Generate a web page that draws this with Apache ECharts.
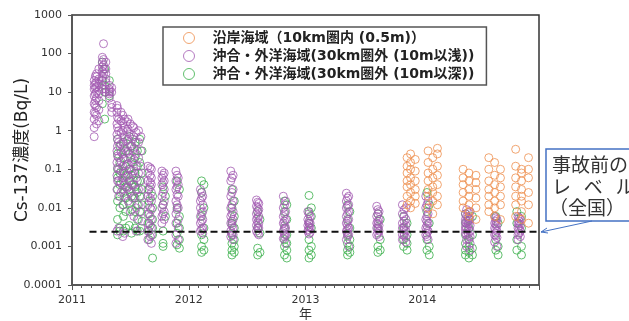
<!DOCTYPE html>
<html><head><meta charset="utf-8">
<script src="https://cdn.jsdelivr.net/npm/echarts@6/dist/echarts.min.js"></script>
<style>html,body{margin:0;padding:0;background:#fff}#c{width:629px;height:321px}</style>
</head><body><div id="c"></div>
<script>
// ---- data (decimal year, Bq/L) ----
const xTickYears = [2011, 2012, 2013, 2014];
const yTickLabels = ['0.0001','0.001','0.01','0.1','1','10','100','1000'];
const seriesNames = ['沿岸海域（10km圏内 (0.5m)）','沖合・外洋海域(30km圏外 (10m以浅))','沖合・外洋海域(30km圏外 (10m以深))'];
const baselineValue = 0.0024;
const baselineStart = 2011.15;
const baselineEnd = 2015;

// coastal (within 10 km, 0.5 m)
const coastal = [
  [2013.87, [0.2, 0.12, 0.08, 0.05, 0.035, 0.02, 0.012]],
  [2013.90, [0.25, 0.15, 0.1, 0.06, 0.04, 0.025, 0.015, 0.01]],
  [2013.94, [0.18, 0.09, 0.05, 0.03, 0.02, 0.013]],
  [2014.05, [0.3, 0.15, 0.08, 0.05, 0.03, 0.02, 0.01]],
  [2014.09, [0.2, 0.1, 0.06, 0.035, 0.025, 0.015, 0.007]],
  [2014.13, [0.35, 0.25, 0.12, 0.07, 0.04, 0.02, 0.012]],
  [2014.35, [0.1, 0.06, 0.04, 0.025, 0.015, 0.01]],
  [2014.40, [0.08, 0.05, 0.03, 0.02, 0.012, 0.008, 0.006]],
  [2014.46, [0.07, 0.045, 0.03, 0.018, 0.01, 0.005]],
  [2014.57, [0.2, 0.1, 0.05, 0.03, 0.02, 0.012, 0.008]],
  [2014.62, [0.15, 0.07, 0.04, 0.025, 0.015, 0.01, 0.006]],
  [2014.67, [0.1, 0.06, 0.035, 0.02, 0.012, 0.005]],
  [2014.80, [0.33, 0.12, 0.06, 0.035, 0.02, 0.012, 0.006]],
  [2014.85, [0.1, 0.08, 0.05, 0.03, 0.02, 0.015, 0.008, 0.005]],
  [2014.91, [0.2, 0.1, 0.06, 0.025, 0.012, 0.004]]
];
// offshore, shallow (<=10 m)
const shallow = [
  [2011.19, [20, 15, 12, 8, 5, 3, 2, 1.2, 0.7]],
  [2011.20, [26, 17, 13, 9, 6, 4.5, 2.8]],
  [2011.21, [30, 25, 18, 14, 10, 7, 4, 2.5, 1.5]],
  [2011.23, [40, 22, 16, 11, 9, 6, 3.5, 1.8]],
  [2011.26, [80, 60, 45, 35, 25, 20, 15, 12]],
  [2011.27, [180, 70, 50, 40, 30]],
  [2011.29, [60, 40, 30, 22, 18, 12, 10]],
  [2011.32, [15, 12, 11, 10, 9, 7]],
  [2011.34, [13, 10, 5, 4, 3]],
  [2011.385, [4.5, 3, 1.5, 0.8, 0.3, 0.15, 0.07, 0.03, 0.0025]],
  [2011.39, [3.8, 2.2, 1.2, 0.6, 0.4, 0.22, 0.11, 0.05]],
  [2011.40, [2, 1, 0.5, 0.2, 0.1, 0.05, 0.02, 0.003]],
  [2011.42, [3, 1.8, 0.9, 0.45, 0.28, 0.16, 0.09, 0.045, 0.025]],
  [2011.435, [2.5, 1.6, 1, 0.5, 0.25, 0.12, 0.06, 0.03, 0.012, 0.0018]],
  [2011.45, [2, 1.2, 0.7, 0.35, 0.18, 0.08, 0.04, 0.02, 0.0022]],
  [2011.47, [1.7, 0.95, 0.55, 0.27, 0.13, 0.065, 0.032]],
  [2011.48, [2, 1.1, 0.6, 0.3, 0.14, 0.07, 0.035, 0.015]],
  [2011.50, [1.5, 0.8, 0.4, 0.2, 0.1, 0.05, 0.025, 0.008]],
  [2011.52, [1.3, 0.6, 0.3, 0.15, 0.075, 0.04, 0.018]],
  [2011.53, [1.2, 0.7, 0.35, 0.18, 0.09, 0.04, 0.02, 0.006]],
  [2011.55, [0.9, 0.5, 0.25, 0.12, 0.06, 0.03, 0.01, 0.0025]],
  [2011.57, [1, 0.5, 0.2, 0.08, 0.03, 0.012, 0.005]],
  [2011.59, [0.7, 0.3, 0.12, 0.05, 0.02, 0.008, 0.003]],
  [2011.65, [0.12, 0.08, 0.05, 0.03, 0.02, 0.012, 0.007, 0.004, 0.0025, 0.0015]],
  [2011.67, [0.11, 0.07, 0.045, 0.035, 0.018, 0.01, 0.006, 0.0035, 0.0018]],
  [2011.68, [0.1, 0.06, 0.04, 0.025, 0.015, 0.009, 0.005, 0.003, 0.002, 0.0012]],
  [2011.77, [0.09, 0.06, 0.04, 0.02, 0.01, 0.006, 0.004]],
  [2011.78, [0.07, 0.045, 0.025, 0.012, 0.007]],
  [2011.79, [0.08, 0.05, 0.03, 0.015, 0.008, 0.005]],
  [2011.89, [0.09, 0.05, 0.03, 0.015, 0.007, 0.004, 0.002, 0.0012]],
  [2011.90, [0.07, 0.035, 0.022, 0.012, 0.009]],
  [2011.91, [0.06, 0.04, 0.02, 0.01, 0.005, 0.003, 0.0015]],
  [2012.10, [0.03, 0.015, 0.01, 0.006, 0.004, 0.0025]],
  [2012.11, [0.025, 0.018, 0.0075, 0.0045, 0.0028]],
  [2012.12, [0.02, 0.012, 0.008, 0.005, 0.003, 0.0022]],
  [2012.36, [0.09, 0.05, 0.02, 0.01, 0.006, 0.004, 0.0025, 0.0018]],
  [2012.37, [0.06, 0.025, 0.012, 0.007, 0.0045, 0.0035, 0.0022]],
  [2012.38, [0.07, 0.03, 0.015, 0.008, 0.005, 0.003, 0.002, 0.0015]],
  [2012.58, [0.016, 0.011, 0.007, 0.005, 0.0035, 0.0025]],
  [2012.59, [0.014, 0.01, 0.008, 0.0055, 0.0042, 0.003, 0.0022]],
  [2012.60, [0.013, 0.009, 0.006, 0.004, 0.003, 0.002]],
  [2012.81, [0.02, 0.01, 0.006, 0.004, 0.0025, 0.0016]],
  [2012.82, [0.012, 0.007, 0.0045, 0.0035, 0.0028, 0.0021, 0.0018]],
  [2012.83, [0.015, 0.008, 0.005, 0.003, 0.002, 0.0012]],
  [2013.02, [0.008, 0.005, 0.0035, 0.0025]],
  [2013.03, [0.007, 0.0045, 0.004, 0.0032, 0.0027, 0.0021]],
  [2013.04, [0.006, 0.004, 0.003, 0.0023]],
  [2013.35, [0.024, 0.015, 0.01, 0.006, 0.004, 0.0025, 0.0015]],
  [2013.36, [0.018, 0.011, 0.007, 0.0045, 0.0035, 0.0028, 0.0022, 0.0018]],
  [2013.37, [0.02, 0.012, 0.008, 0.005, 0.003, 0.002, 0.001]],
  [2013.61, [0.011, 0.006, 0.004, 0.003, 0.002]],
  [2013.62, [0.009, 0.007, 0.0045, 0.0038, 0.0028, 0.0022]],
  [2013.63, [0.008, 0.005, 0.0035, 0.0025, 0.0018]],
  [2013.83, [0.012, 0.007, 0.004, 0.003, 0.002, 0.0015]],
  [2013.845, [0.009, 0.006, 0.0045, 0.0032, 0.0027, 0.0021, 0.0019]],
  [2013.86, [0.01, 0.005, 0.0035, 0.0025, 0.0017, 0.0013]],
  [2014.03, [0.02, 0.01, 0.005, 0.003, 0.002]],
  [2014.04, [0.012, 0.006, 0.0045, 0.0035, 0.0028, 0.0022, 0.0018]],
  [2014.05, [0.015, 0.007, 0.004, 0.0025, 0.0015]],
  [2014.37, [0.007, 0.005, 0.0042, 0.0032, 0.0027, 0.0022]],
  [2014.38, [0.009, 0.006, 0.004, 0.003, 0.002, 0.0015, 0.001]],
  [2014.395, [0.0075, 0.0055, 0.0045, 0.0038, 0.0028, 0.0021, 0.0016]],
  [2014.41, [0.008, 0.005, 0.0035, 0.0025, 0.0018, 0.0012, 0.0008]],
  [2014.62, [0.006, 0.004, 0.003, 0.002, 0.0013]],
  [2014.63, [0.0055, 0.0045, 0.0038, 0.0028, 0.0022, 0.0019]],
  [2014.64, [0.005, 0.0035, 0.0025, 0.0017, 0.001]],
  [2014.82, [0.006, 0.004, 0.003, 0.002, 0.0015]],
  [2014.83, [0.0055, 0.0045, 0.0038, 0.0028, 0.0022]],
  [2014.84, [0.005, 0.0035, 0.0025, 0.0018]]
];
// offshore, deep (>10 m)
const deep = [
  [2011.26, [60, 20, 5]],
  [2011.28, [40, 15, 10, 2]],
  [2011.32, [20, 8]],
  [2011.39, [0.6, 0.25, 0.1, 0.06, 0.03, 0.015, 0.005, 0.002]],
  [2011.41, [0.4, 0.15, 0.08, 0.04, 0.02, 0.01, 0.0025, 0.003]],
  [2011.44, [0.5, 0.2, 0.09, 0.05, 0.025, 0.012, 0.006, 0.0025]],
  [2011.46, [0.3, 0.12, 0.07, 0.035, 0.018, 0.008, 0.003]],
  [2011.49, [0.7, 0.25, 0.1, 0.05, 0.03, 0.013, 0.0035]],
  [2011.51, [0.4, 0.15, 0.07, 0.04, 0.02, 0.009, 0.0022]],
  [2011.54, [0.5, 0.2, 0.08, 0.035, 0.018, 0.008, 0.003]],
  [2011.56, [0.3, 0.12, 0.05, 0.025, 0.012, 0.005, 0.0025]],
  [2011.58, [0.6, 0.15, 0.05, 0.02, 0.008, 0.0025]],
  [2011.60, [0.3, 0.08, 0.03, 0.012, 0.0045]],
  [2011.66, [0.03, 0.015, 0.007, 0.004, 0.0025, 0.0015]],
  [2011.69, [0.02, 0.01, 0.005, 0.003, 0.002, 0.0005]],
  [2011.78, [0.035, 0.012, 0.0025, 0.0012, 0.001]],
  [2011.80, [0.02, 0.006]],
  [2011.90, [0.05, 0.01, 0.004, 0.0022, 0.0011]],
  [2011.92, [0.03, 0.006, 0.003, 0.0015, 0.0009]],
  [2012.11, [0.05, 0.025, 0.006, 0.002, 0.001, 0.0007]],
  [2012.13, [0.04, 0.01, 0.003, 0.0015, 0.0008]],
  [2012.37, [0.03, 0.01, 0.004, 0.002, 0.0012, 0.0008, 0.0006]],
  [2012.39, [0.015, 0.006, 0.003, 0.0015, 0.001, 0.0007]],
  [2012.59, [0.008, 0.003, 0.0009, 0.0006]],
  [2012.61, [0.005, 0.0022, 0.0007]],
  [2012.82, [0.015, 0.008, 0.003, 0.0015, 0.001, 0.0006]],
  [2012.84, [0.012, 0.005, 0.002, 0.0012, 0.0008, 0.0005]],
  [2013.03, [0.021, 0.008, 0.004, 0.0015, 0.0008, 0.0005]],
  [2013.05, [0.01, 0.006, 0.003, 0.001, 0.0006]],
  [2013.36, [0.012, 0.005, 0.002, 0.0012, 0.0008, 0.0006]],
  [2013.38, [0.008, 0.003, 0.0015, 0.001, 0.0007]],
  [2013.62, [0.007, 0.003, 0.001, 0.0007]],
  [2013.64, [0.005, 0.0015, 0.0008]],
  [2013.84, [0.006, 0.003, 0.0015, 0.001]],
  [2013.87, [0.004, 0.002, 0.0012, 0.0008]],
  [2014.04, [0.025, 0.008, 0.0015, 0.0008]],
  [2014.06, [0.012, 0.004, 0.001, 0.0006]],
  [2014.37, [0.007, 0.004, 0.002, 0.0012, 0.0008, 0.0006]],
  [2014.40, [0.005, 0.003, 0.0015, 0.001, 0.0007, 0.0005]],
  [2014.43, [0.006, 0.002, 0.0009, 0.0006]],
  [2014.63, [0.006, 0.0015, 0.0008]],
  [2014.65, [0.004, 0.001, 0.0006]],
  [2014.81, [0.008, 0.004, 0.0015, 0.0008]],
  [2014.85, [0.006, 0.003, 0.001, 0.0006]]
];

function flatten(cols) {
  const out = [];
  cols.forEach(c => c[1].forEach(v => out.push([c[0], v])));
  return out;
}

const colors = { coastal: '#EE8E4E', shallow: '#A25AB2', deep: '#3AAF4A' };
const chart = echarts.init(document.getElementById('c'), null, { renderer: 'canvas' });
const FONT = 'DejaVu Sans, Verdana, "Noto Sans CJK JP", sans-serif';
const JP = '"Noto Sans CJK JP", sans-serif';

function scatter(name, data, color) {
  return {
    name, type: 'scatter', data: flatten(data), symbol: 'circle', symbolSize: 8,
    itemStyle: { color: 'rgba(0,0,0,0)', borderColor: color, borderWidth: 1 },
    emphasis: { disabled: true }, silent: true, animation: false
  };
}

chart.setOption({
  animation: false,
  grid: { left: 72, right: 90, top: 15, bottom: 36, outerBoundsMode: 'none', containLabel: false,
    show: true, borderColor: '#333', borderWidth: 1.5, backgroundColor: 'transparent' },
  xAxis: {
    type: 'value', min: 2011, max: 2015, interval: 1,
    name: '年', nameLocation: 'middle', nameGap: 22, nameMoveOverlap: false,
    nameTextStyle: { fontSize: 13, color: '#333', fontFamily: JP },
    axisLine: { lineStyle: { color: '#555', width: 1.5 } },
    axisTick: { show: true, length: 5, lineStyle: { color: '#555' } },
    minorTick: { show: true, splitNumber: 12, length: 3, lineStyle: { color: '#555' } },
    splitLine: { show: false },
    axisLabel: { fontSize: 11, color: '#333', fontFamily: FONT, margin: 10,
      formatter: v => xTickYears.indexOf(v) >= 0 ? String(v) : '' }
  },
  yAxis: {
    type: 'log', logBase: 10, min: 0.0001, max: 1000,
    name: 'Cs-137濃度(Bq/L)', nameLocation: 'middle', nameGap: 41, nameMoveOverlap: false,
    nameTextStyle: { fontSize: 17, color: '#222', fontFamily: FONT },
    axisLine: { show: true, lineStyle: { color: '#555', width: 1.5 } },
    axisTick: { show: true, length: 4, lineStyle: { color: '#555' } },
    splitLine: { show: false },
    axisLabel: { fontSize: 11, color: '#333', fontFamily: FONT, margin: 10,
      formatter: v => yTickLabels[Math.round(Math.log10(v)) + 4] }
  },
  legend: {
    data: seriesNames, orient: 'vertical', left: 163, top: 27,
    backgroundColor: '#fff', borderColor: '#555', borderWidth: 1.5,
    padding: [4, 12, 4, 20], itemGap: 4, itemWidth: 11, itemHeight: 11,
    itemStyle: { borderWidth: 1 },
    textStyle: { fontSize: 14, fontWeight: 'bold', color: '#222', fontFamily: FONT, padding: [0, 0, 0, 13] },
    selectedMode: false
  },
  series: [
    scatter(seriesNames[2], deep, colors.deep),
    scatter(seriesNames[1], shallow, colors.shallow),
    scatter(seriesNames[0], coastal, colors.coastal),
    {
      type: 'line', data: [[baselineStart, baselineValue], [baselineEnd, baselineValue]],
      symbol: 'none', silent: true, z: 5,
      lineStyle: { color: '#111', width: 2, type: [7, 4] }
    }
  ],
  graphic: [
    { type: 'rect', shape: { x: 546, y: 149, width: 120, height: 72 }, style: { fill: '#fff', stroke: '#4472C4', lineWidth: 1.5 }, z: 10 },
    { type: 'text', x: 552, y: 165, style: { text: '事故前の', fontSize: 19, fill: '#333', fontFamily: JP, verticalAlign: 'middle' }, z: 11 },
    { type: 'text', x: 552, y: 187, style: { text: 'レ   ベ   ル', fontSize: 19, fill: '#333', fontFamily: JP, verticalAlign: 'middle' }, z: 11 },
    { type: 'text', x: 549, y: 208, style: { text: '（全国）', fontSize: 19, fill: '#333', fontFamily: JP, verticalAlign: 'middle' }, z: 11 },
    { type: 'line', shape: { x1: 592, y1: 221, x2: 541, y2: 232 }, style: { stroke: '#4472C4', lineWidth: 1 }, z: 10 },
    { type: 'polyline', shape: { points: [[547, 228], [541, 232], [548, 233]] }, style: { stroke: '#4472C4', lineWidth: 1, fill: null }, z: 10 }
  ]
});
</script></body></html>
